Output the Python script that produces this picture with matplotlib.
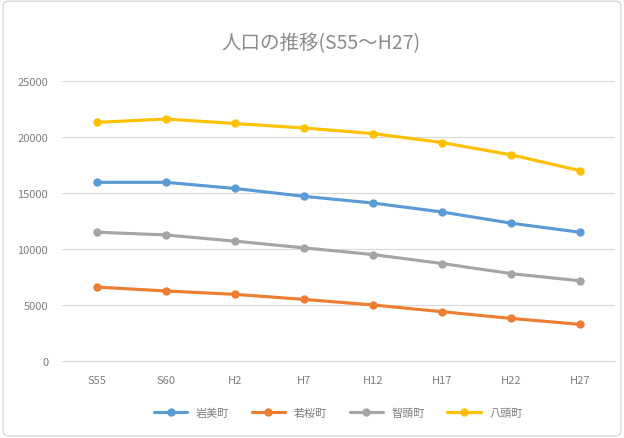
import matplotlib
matplotlib.use('Agg')
import matplotlib.pyplot as plt
from matplotlib.patches import FancyBboxPatch

plt.rcParams['font.family'] = ['Noto Sans CJK JP', 'DejaVu Sans']

years = ['S55', 'S60', 'H2', 'H7', 'H12', 'H17', 'H22', 'H27']
iwami = [15950, 15950, 15400, 14700, 14100, 13300, 12300, 11485]
wakasa = [6600, 6250, 5950, 5500, 5000, 4400, 3800, 3269]
chizu = [11500, 11250, 10700, 10100, 9500, 8700, 7800, 7154]
yazu = [21300, 21600, 21200, 20800, 20300, 19500, 18400, 16985]

names = ['岩美町', '若桜町', '智頭町', '八頭町']
colors = ['#5B9BD5', '#ED7D31', '#A5A5A5', '#FFC000']

fig = plt.figure(figsize=(6.24, 4.39), dpi=100)
ax = fig.add_axes([0.0994, 0.1754, 0.886, 0.638])

for vals, name, c in zip([iwami, wakasa, chizu, yazu], names, colors):
    ax.plot(years, vals, color=c, lw=2.25, marker='o', ms=5, label=name,
            solid_capstyle='round')

ax.set_ylim(0, 25000)
ax.set_yticks(range(0, 25001, 5000))
ax.set_xlim(-0.5, len(years) - 0.5)
ax.grid(axis='y', color='#D9D9D9', lw=0.8)
ax.set_axisbelow(True)
for s in ['top', 'right', 'left']:
    ax.spines[s].set_visible(False)
ax.spines['bottom'].set_color('#D9D9D9')
ax.tick_params(length=0, labelsize=8, colors='#7F7F7F', pad=10)

fig.text(0.515, 0.900, '人口の推移(S55～H27)', ha='center', va='center',
         fontsize=14, color='#8C8C8C')

ax.legend(loc='upper center', bbox_to_anchor=(0.5, -0.13), ncol=4,
          frameon=False, fontsize=8, labelcolor='#7F7F7F',
          handlelength=3, columnspacing=2)

border = FancyBboxPatch((0.005, 0.005), 0.99, 0.99, boxstyle='round,pad=0,rounding_size=0.01',
                        transform=fig.transFigure, fill=False, ec='#D9D9D9', lw=1)
fig.patches.append(border)

fig.savefig('out.png', dpi=100)
